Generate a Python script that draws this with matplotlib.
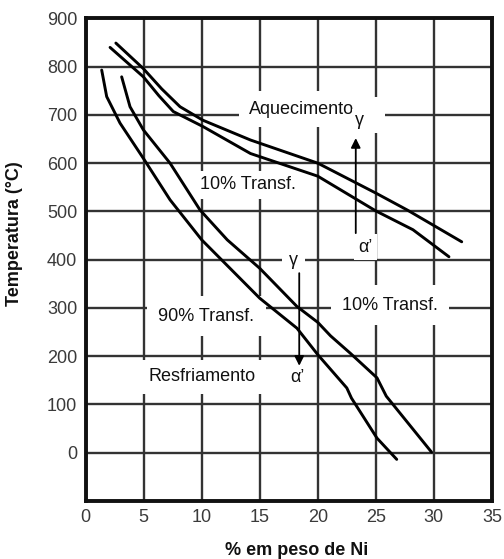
import matplotlib
matplotlib.use("Agg")
import matplotlib.pyplot as plt
import numpy as np

# ---- data ----
heat_start_x = [2.6, 4.97, 6.55, 8.13, 10.1, 14.2, 20.0, 25.0, 27.7, 32.4]
heat_start_y = [849, 796, 754, 717, 689, 648, 600, 538, 503, 437]

heat_10_x = [2.1, 4.97, 6.3, 7.55, 10.1, 14.2, 20.0, 25.0, 28.2, 31.3]
heat_10_y = [840, 779, 740, 707, 676, 620, 573, 501, 462, 406]

cool_90_x = [1.38, 1.81, 2.96, 4.97, 7.27, 10.0, 15.0, 18.2, 20.0, 22.5, 22.9, 25.1, 26.8]
cool_90_y = [793, 738, 683, 610, 524, 441, 320, 258, 203, 134, 113, 30, -14]

cool_10_x = [3.1, 3.82, 4.97, 7.27, 9.85, 12.2, 15.0, 18.2, 20.0, 21.1, 22.8, 25.1, 25.9, 29.8]
cool_10_y = [779, 717, 669, 600, 503, 441, 382, 303, 270, 242, 206, 155, 117, 1]

x_ticks = [0, 5, 10, 15, 20, 25, 30, 35]
y_ticks = [0, 100, 200, 300, 400, 500, 600, 700, 800, 900]

plt.rcParams['font.family'] = ['Liberation Sans', 'DejaVu Sans']

fig = plt.figure(figsize=(5.04, 5.59), dpi=100)
ax = fig.add_axes([0.170, 0.104, 0.806, 0.863])
ax.set_xlim(0, 35)
ax.set_ylim(-100, 900)
ax.set_xticks(x_ticks)
ax.set_yticks(y_ticks)
tick_font = dict(family=['Liberation Sans Narrow', 'Liberation Sans', 'DejaVu Sans'], size=13, color='#3a3a3a')
ax.set_xticklabels([str(v) for v in x_ticks], **tick_font)
ax.set_yticklabels([str(v) for v in y_ticks], **tick_font)
ax.tick_params(length=0, pad=6)
ax.grid(True, color='#333333', lw=1.7, zorder=1)
ax.set_axisbelow(True)
for s in ax.spines.values():
    s.set_linewidth(2.8)
    s.set_color('#111111')

for xs, ys in [(heat_start_x, heat_start_y), (heat_10_x, heat_10_y),
               (cool_90_x, cool_90_y), (cool_10_x, cool_10_y)]:
    ax.plot(xs, ys, color='black', lw=2.1, zorder=5, solid_capstyle='round')

def wb(p):
    return dict(facecolor='white', edgecolor='none', pad=p)

tk = dict(fontsize=13, color='#111111', ha='center', va='center')

ax.text(24.3, 700, '   ', bbox=wb(7), zorder=3, **tk)
ax.text(18.6, 712, 'Aquecimento', bbox=wb(7), zorder=4, **tk)
ax.text(23.6, 689, 'γ', bbox=wb(2), zorder=4, **tk)
ax.text(14.0, 555, '10% Transf.', bbox=wb(4), zorder=4, **tk)
ax.text(24.1, 426, 'α’', bbox=wb(3), zorder=4, **tk)
ax.text(17.9, 398, 'γ', bbox=wb(5), zorder=4, **tk)
ax.text(10.4, 283, '90% Transf.', bbox=wb(8), zorder=4, **tk)
ax.text(26.2, 306, '10% Transf.', bbox=wb(8), zorder=4, **tk)
ax.text(10.0, 157, 'Resfriamento', bbox=wb(6), zorder=4, **tk)
ax.text(18.2, 155, 'α’', bbox=wb(3), zorder=4, **tk)

arrow = dict(arrowstyle='-|>', mutation_scale=14, lw=1.3, color='black', shrinkA=0, shrinkB=0)
ax.annotate('', xy=(23.27, 652), xytext=(23.27, 455), arrowprops=arrow, zorder=6)
ax.annotate('', xy=(18.4, 180), xytext=(18.4, 372), arrowprops=arrow, zorder=6)

ax.set_ylabel('Temperatura (°C)', fontsize=13, fontweight='bold', color='#111111', va='center')
ax.yaxis.set_label_coords(-0.174, 0.553)
ax.set_xlabel('% em peso de Ni', fontsize=13, fontweight='bold', color='#111111', va='center')
ax.xaxis.set_label_coords(0.52, -0.102)

fig.savefig('out.png', dpi=100)
